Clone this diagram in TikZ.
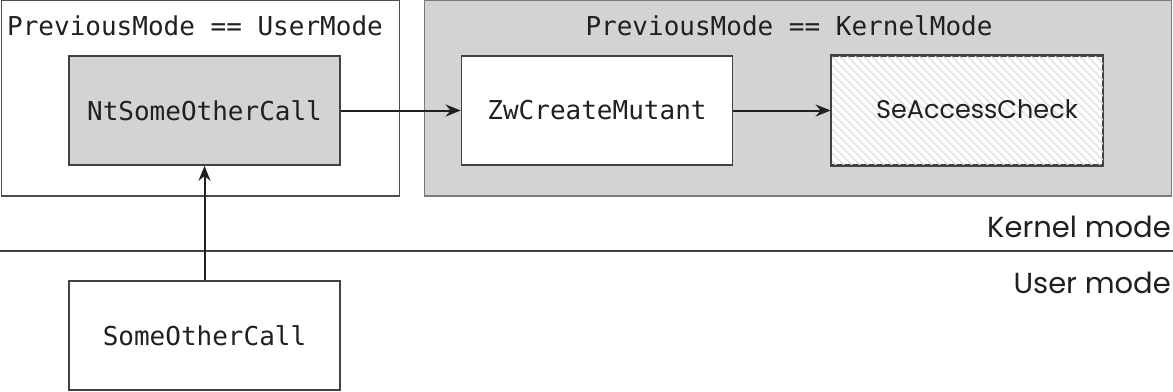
\documentclass[tikz,border=0pt]{standalone}
\usepackage{fontspec}
\setmonofont{DejaVu Sans Mono}
\newfontfamily\modefont{Poppins}
\usetikzlibrary{arrows.meta}
\definecolor{panelgray}{HTML}{D1D3D4}
\definecolor{edgegray}{HTML}{7A7A7A}
\definecolor{hatchgray}{HTML}{DCDCDC}
\definecolor{inkdark}{HTML}{231F20}
\tikzset{
  panel/.style={draw=#1, line width=1.7pt, inner sep=0pt, minimum height=196pt},
  callbox/.style={draw=inkdark!85, line width=1.7pt, inner sep=0pt,
    minimum width=271pt, minimum height=109pt, font=\ttfamily\fontsize{26}{30}\selectfont, text=inkdark},
  title/.style={anchor=base, font=\ttfamily\fontsize{26}{30}\selectfont, text=inkdark},
  modelabel/.style={anchor=base east, inner sep=0pt, font=\modefont\fontsize{29}{34}\selectfont, text=inkdark},
  flow/.style={draw=inkdark, line width=2pt, -{Stealth[length=15pt,width=12pt]}},
  hatch/.style={draw=hatchgray, line width=1.1pt}
}
\begin{document}
\begin{tikzpicture}[x=1pt,y=-1pt]
  \useasboundingbox (0,0) rectangle (1173,391);
  \fill[white] (0,0) rectangle (1173,391);

  % mode panels
  \node[panel=inkdark!80, fill=white, minimum width=398pt] (userpanel) at (200.5,98) {};
  \node[panel=edgegray, fill=panelgray, minimum width=747pt] (kernpanel) at (798,98) {};
  \node[title] (usertitle) at (195,35) {PreviousMode == UserMode};
  \node[title] (kerntitle) at (789,35) {PreviousMode == KernelMode};

  % call boxes
  \node[callbox, fill=panelgray] (nt) at (204.5,110.5) {NtSomeOtherCall};
  \node[callbox, fill=white] (zw) at (597,110.5) {ZwCreateMutant};
  \node[callbox, fill=white] (se) at (967,110.5) {};
  \begin{scope}
    \clip (se.south west) rectangle (se.north east);
    \foreach \i in {0,8,...,400}
      \draw[hatch] (831-120+\i,56) -- ++(120,120);
  \end{scope}
  \draw[draw=inkdark!85, line width=1.7pt] (se.south west) rectangle (se.north east);
  \node[anchor=center, font=\modefont\fontsize{25.5}{30}\selectfont, text=inkdark] (setext) at (977,109) {SeAccessCheck};

  \node[callbox, fill=white] (some) at (204.5,335.5) {SomeOtherCall};

  % kernel / user boundary
  \coordinate (bndl) at (0,251);
  \coordinate (bndr) at (1173,251);
  \draw[inkdark!85, line width=1.6pt] (bndl) -- (bndr);
  \node[modelabel] (kernlabel) at (1171,237) {Kernel mode};
  \node[modelabel] (userlabel) at (1171,293) {User mode};

  % calls
  \draw[flow] (some.north) -- (nt.south);
  \draw[flow] (nt.east) -- (zw.west);
  \draw[flow] (zw.east) -- (se.west);
\end{tikzpicture}
\end{document}
